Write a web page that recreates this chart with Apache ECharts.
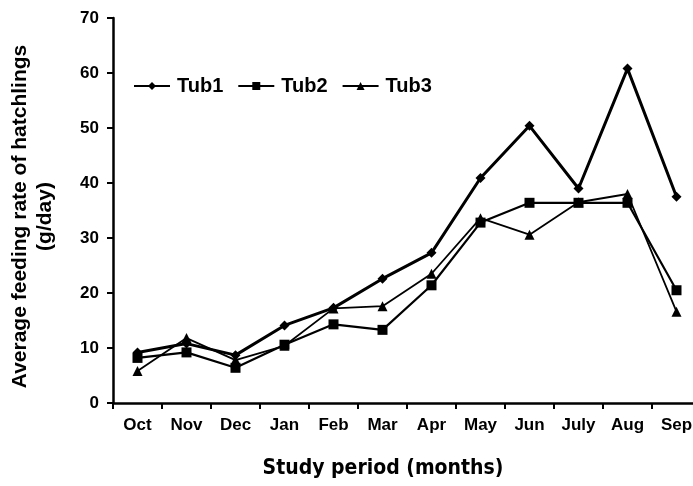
<!DOCTYPE html>
<html>
<head>
<meta charset="utf-8">
<script src="https://cdn.jsdelivr.net/npm/echarts@6/dist/echarts.min.js"></script>
<style>
    html, body { margin: 0; padding: 0; background: #ffffff; }
    #chart { width: 693px; height: 486px; }
</style>
</head>
<body>
<div id="chart"></div>
<script>
    // data
    var months = ['Oct', 'Nov', 'Dec', 'Jan', 'Feb', 'Mar', 'Apr', 'May', 'Jun', 'July', 'Aug', 'Sep'];
    var tub1 = [9.2, 10.8, 8.7, 14.1, 17.3, 22.6, 27.3, 40.9, 50.4, 39.0, 60.8, 37.5];
    var tub2 = [8.2, 9.2, 6.4, 10.6, 14.3, 13.3, 21.4, 32.8, 36.4, 36.4, 36.4, 20.5];
    var tub3 = [5.8, 11.8, 7.8, 10.4, 17.2, 17.6, 23.5, 33.6, 30.6, 36.5, 38.0, 16.6];
    var yTicks = [0, 10, 20, 30, 40, 50, 60, 70];

    var font = 'Liberation Sans, Arial, sans-serif';
    var chart = echarts.init(document.getElementById('chart'));

    function lineSeries(name, data, symbol, size, width) {
        return {
            name: name,
            type: 'line',
            data: data,
            symbol: symbol,
            symbolSize: size,
            showAllSymbol: true,
            lineStyle: { color: '#000', width: width },
            itemStyle: { color: '#000' },
            emphasis: { disabled: true },
            z: 3
        };
    }

    var options = {
        backgroundColor: '#ffffff',
        animation: false,
        grid: { left: 113, top: 18, width: 588, bottom: 83, containLabel: false, outerBoundsMode: 'none' },
        legend: {
            left: 128,
            top: 71,
            itemWidth: 36,
            itemHeight: 10,
            itemGap: 14,
            textStyle: { fontFamily: font, fontWeight: 'bold', fontSize: 20, color: '#000', padding: [0, 0, 0, 2] },
            data: ['Tub1', 'Tub2', 'Tub3']
        },
        xAxis: {
            type: 'category',
            data: months,
            boundaryGap: true,
            axisLine: { lineStyle: { color: '#000', width: 2.5 } },
            axisTick: { show: true, inside: false, length: 6, lineStyle: { color: '#000', width: 2 } },
            axisLabel: { color: '#000', fontFamily: font, fontWeight: 'bold', fontSize: 17, margin: 14, interval: 0 },
            name: 'Study period (months)',
            nameLocation: 'middle',
            nameGap: 55,
            nameTextStyle: { color: '#000', fontFamily: 'DejaVu Sans Condensed, DejaVu Sans, sans-serif', fontWeight: 'bold', fontSize: 21, padding: [0, 48, 0, 0] },
            splitLine: { show: false }
        },
        yAxis: {
            type: 'value',
            min: yTicks[0],
            max: yTicks[yTicks.length - 1],
            interval: 10,
            axisLine: { show: true, lineStyle: { color: '#000', width: 2.5 } },
            axisTick: { show: true, inside: false, length: 6, lineStyle: { color: '#000', width: 2 } },
            axisLabel: { color: '#000', fontFamily: font, fontWeight: 'bold', fontSize: 17, margin: 14 },
            splitLine: { show: false },
            name: 'Average feeding rate of hatchlings\n(g/day)',
            nameLocation: 'middle',
            nameGap: 55,
            nameTextStyle: { color: '#000', fontFamily: font, fontWeight: 'bold', fontSize: 21, lineHeight: 25, align: 'center', padding: [0, 12, 0, 0] }
        },
        series: [
            lineSeries('Tub1', tub1, 'diamond', 10, 3),
            lineSeries('Tub2', tub2, 'rect', 10, 2.2),
            lineSeries('Tub3', tub3, 'triangle', 10, 1.8)
        ]
    };

    chart.setOption(options);
</script>
</body>
</html>
